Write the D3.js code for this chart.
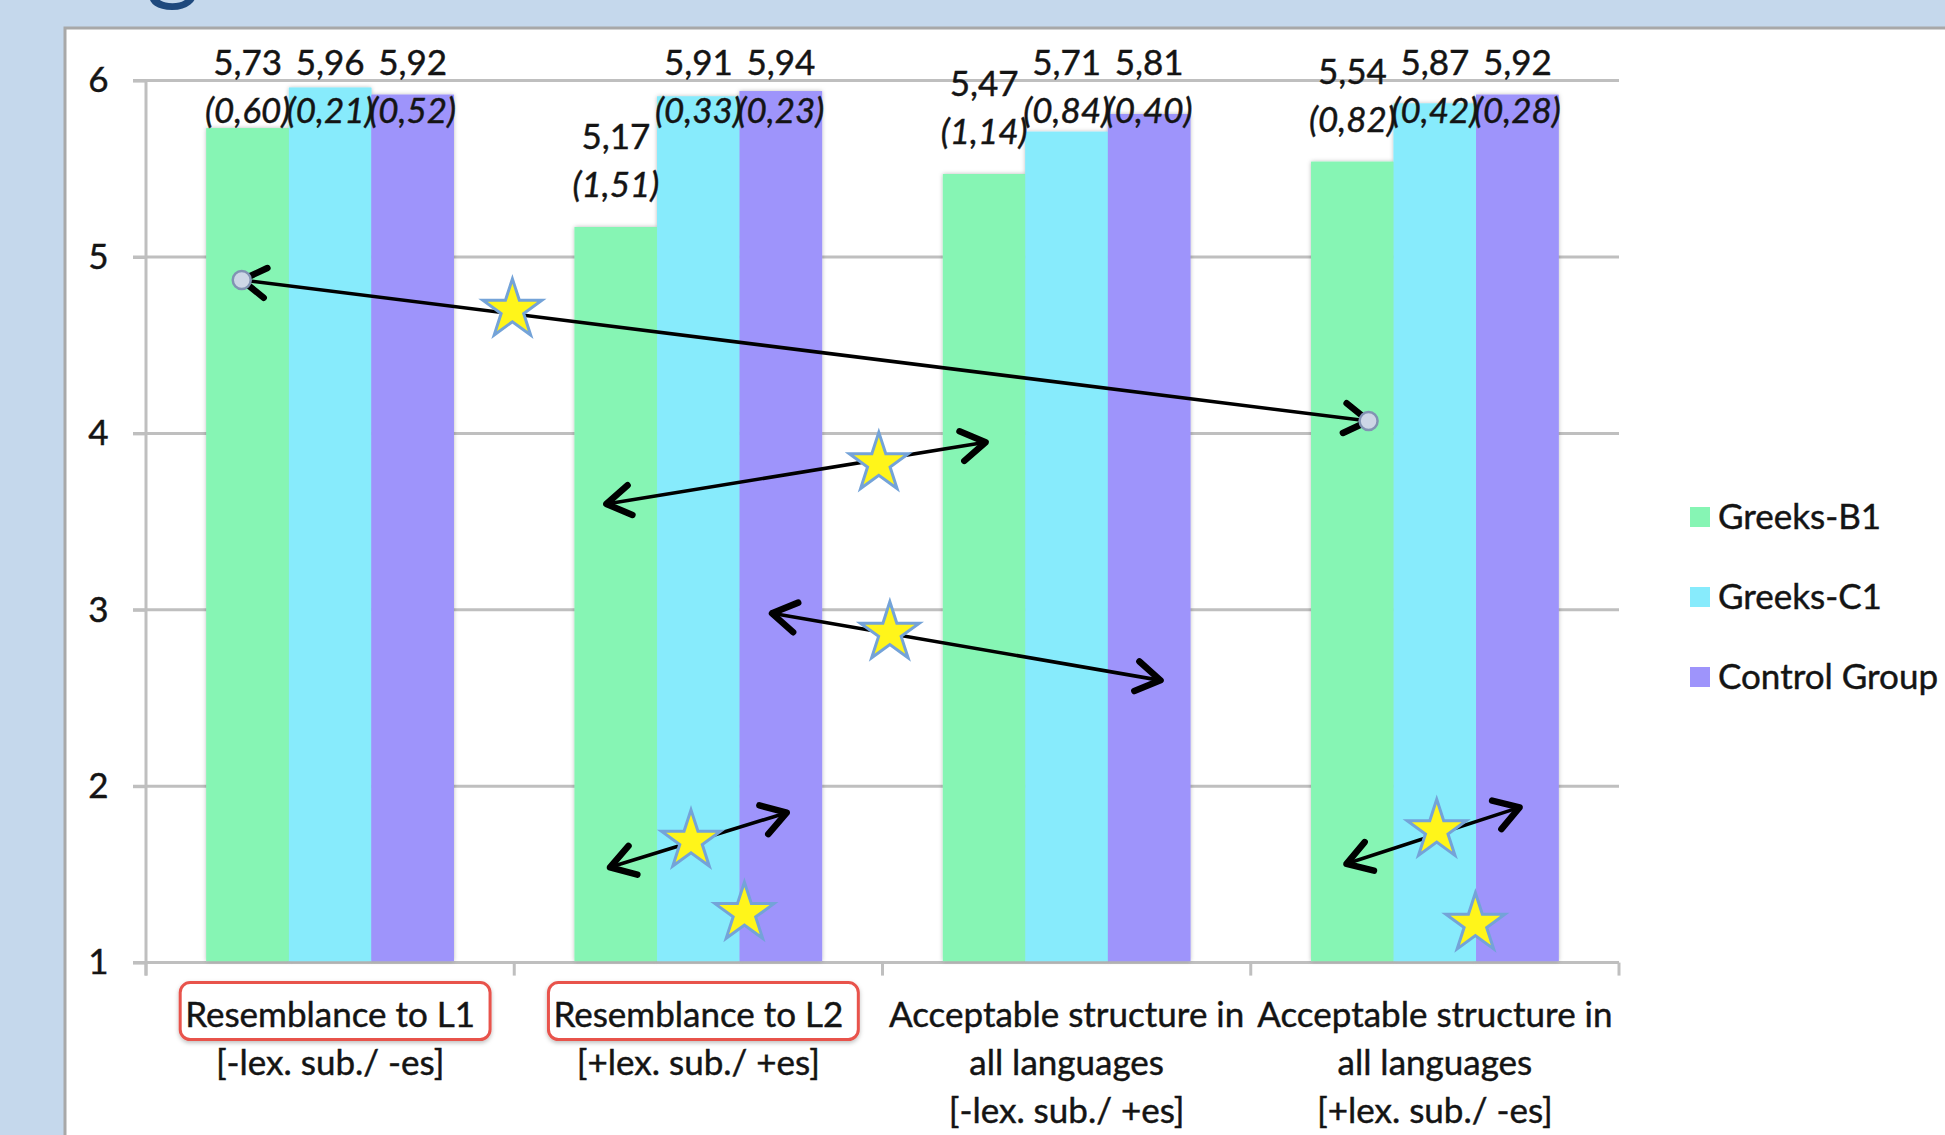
<!DOCTYPE html>
<html><head><meta charset="utf-8">
<script src="https://cdn.jsdelivr.net/npm/d3@7"></script>
<style>
html,body{margin:0;padding:0;background:#c5d8ec;overflow:hidden}
svg{display:block}
text{font-family:Lato,"Open Sans",sans-serif;fill:#141414;stroke:#141414;stroke-width:0.45px;paint-order:stroke}
</style>
</head><body>
<svg id="chart" width="1945" height="1135"></svg>
<script>
// ---------- data ----------
const categoryIds = ["L1", "L2", "AllNoLex", "AllLex"];
const categoryLines = [
  ["Resemblance to L1", "[-lex. sub./ -es]"],
  ["Resemblance to L2", "[+lex. sub./ +es]"],
  ["Acceptable structure in", "all languages", "[-lex. sub./ +es]"],
  ["Acceptable structure in", "all languages", "[+lex. sub./ -es]"]
];
const highlightedCategory = [true, true, false, false];
const seriesNames = ["Greeks-B1", "Greeks-C1", "Control Group"];
const greeksB1 = [5.73, 5.17, 5.47, 5.54];
const greeksC1 = [5.96, 5.91, 5.71, 5.87];
const controlGroup = [5.92, 5.94, 5.81, 5.92];
const sdB1 = ["(0,60)", "(1,51)", "(1,14)", "(0,82)"];
const sdC1 = ["(0,21)", "(0,33)", "(0,84)", "(0,42)"];
const sdControl = ["(0,52)", "(0,23)", "(0,40)", "(0,28)"];
const seriesColors = ["#86f5b4", "#87ebfc", "#9e94fb"];
const yTicks = [1, 2, 3, 4, 5, 6];
const yDomain = [1, 6];

// annotations in data space: x = category position (0..4 across the axis), y = score
const arrowStartX = [0.26, 1.25, 1.70, 1.26, 3.26];
const arrowStartY = [4.87, 3.60, 2.98, 1.54, 1.56];
const arrowEndX   = [3.32, 2.28, 2.755, 1.74, 3.73];
const arrowEndY   = [4.07, 3.95, 2.60, 1.85, 1.88];
const arrowDots   = [true, false, false, false, false];
const starX = [0.995, 1.99, 2.02, 1.48, 1.625, 3.505, 3.61];
const starY = [4.70, 3.83, 2.87, 1.69, 1.28, 1.75, 1.22];

// ---------- layout ----------
const svg = d3.select("#chart");
const plot = {left: 146, right: 1619, top: 80.6, bottom: 962.6};
const fontSize = 35;

const defs = svg.append("defs");
const sh = defs.append("filter").attr("id", "barShadow").attr("x", "-10%").attr("y", "-5%").attr("width", "120%").attr("height", "110%");
sh.append("feDropShadow").attr("dx", 0).attr("dy", 0).attr("stdDeviation", 2.2).attr("flood-color", "#000").attr("flood-opacity", 0.28);
const bs = defs.append("filter").attr("id", "boxShadow").attr("x", "-10%").attr("y", "-30%").attr("width", "120%").attr("height", "160%");
bs.append("feDropShadow").attr("dx", 0).attr("dy", 2).attr("stdDeviation", 2).attr("flood-color", "#000").attr("flood-opacity", 0.25);
defs.append("marker").attr("id", "chev").attr("markerUnits", "userSpaceOnUse")
  .attr("viewBox", "-32 -24 38 48").attr("markerWidth", 38).attr("markerHeight", 48)
  .attr("refX", 0).attr("refY", 0).attr("orient", "auto-start-reverse")
  .append("path").attr("d", "M-24,-15 L0,0 L-24,15")
  .attr("fill", "none").attr("stroke", "#000").attr("stroke-width", 6.5)
  .attr("stroke-linecap", "round").attr("stroke-linejoin", "round");

// slide title fragment
svg.append("text").attr("x", 146).attr("y", -9).attr("font-size", 104)
  .style("fill", "#1f497d").style("stroke", "none").text("g");

// white chart panel
svg.append("rect").attr("x", 65).attr("y", 28).attr("width", 1900).attr("height", 1200)
  .attr("fill", "#fff").attr("stroke", "#a8a8a8").attr("stroke-width", 3);

const y = d3.scaleLinear().domain(yDomain).range([plot.bottom, plot.top]);
const x0 = d3.scaleBand().domain(categoryIds).range([plot.left, plot.right])
  .paddingInner(0.328).paddingOuter(0.164);
const x1 = d3.scaleBand().domain(seriesNames).range([0, x0.bandwidth()]);
const xPos = d3.scaleLinear().domain([0, categoryIds.length]).range([plot.left, plot.right]);

// gridlines
svg.append("g").selectAll("line").data(yTicks.filter(t => t > yDomain[0])).join("line")
  .attr("x1", plot.left - 13).attr("x2", plot.right)
  .attr("y1", d => y(d)).attr("y2", d => y(d))
  .attr("stroke", "#bfbfbf").attr("stroke-width", 3);

// y axis
const yAxis = svg.append("g").attr("transform", `translate(${plot.left},0)`)
  .call(d3.axisLeft(y).tickValues(yTicks).tickSize(13).tickPadding(24).tickFormat(d3.format("d")));
yAxis.select(".domain").attr("stroke", "#bfbfbf").attr("stroke-width", 3).attr("d", `M0,${plot.top}V${plot.bottom + 13}`);
yAxis.selectAll(".tick line").attr("stroke", "#bfbfbf").attr("stroke-width", 3);
yAxis.selectAll(".tick text").attr("font-size", fontSize).attr("text-anchor", "middle").attr("dx", "-0.3em")
  .style("font-family", "Lato,sans-serif").style("fill", "#141414");

// x axis
const xAxis = svg.append("g").attr("transform", `translate(0,${plot.bottom})`);
xAxis.append("line").attr("x1", plot.left - 13).attr("x2", plot.right).attr("y1", 0).attr("y2", 0)
  .attr("stroke", "#bfbfbf").attr("stroke-width", 3);
xAxis.selectAll("line.tk").data(d3.range(categoryIds.length + 1)).join("line").attr("class", "tk")
  .attr("x1", d => xPos(d)).attr("x2", d => xPos(d)).attr("y1", 0).attr("y2", 13)
  .attr("stroke", "#bfbfbf").attr("stroke-width", 3);

// bars
const seriesValues = [greeksB1, greeksC1, controlGroup];
const seriesSd = [sdB1, sdC1, sdControl];
const barData = [];
categoryIds.forEach((c, ci) => seriesNames.forEach((s, si) => {
  barData.push({c, ci, s, si, v: seriesValues[si][ci], sd: seriesSd[si][ci]});
}));
const barG = svg.append("g");
barG.selectAll("rect").data(barData).join("rect")
  .attr("x", d => x0(d.c) + x1(d.s)).attr("width", x1.bandwidth())
  .attr("y", d => y(d.v)).attr("height", d => y(yDomain[0]) - y(d.v) - 1.5)
  .attr("fill", d => seriesColors[d.si]).attr("filter", "url(#barShadow)");
barG.selectAll("rect.flat").data(barData).join("rect").attr("class", "flat")
  .attr("x", d => x0(d.c) + x1(d.s)).attr("width", x1.bandwidth())
  .attr("y", d => y(d.v)).attr("height", d => y(yDomain[0]) - y(d.v) - 1.5)
  .attr("fill", d => seriesColors[d.si]);

// annotations: arrows
const arrowData = arrowStartX.map((_, i) => ({x1: arrowStartX[i], y1: arrowStartY[i], x2: arrowEndX[i], y2: arrowEndY[i], dots: arrowDots[i]}));
const annG = svg.append("g");
annG.selectAll("line").data(arrowData).join("line")
  .attr("x1", d => xPos(d.x1)).attr("y1", d => y(d.y1))
  .attr("x2", d => xPos(d.x2)).attr("y2", d => y(d.y2))
  .attr("stroke", "#000").attr("stroke-width", 3.6)
  .attr("marker-start", "url(#chev)").attr("marker-end", "url(#chev)");
const dotData = arrowData.filter(d => d.dots).flatMap(d => [[d.x1, d.y1], [d.x2, d.y2]]);
annG.selectAll("circle").data(dotData).join("circle")
  .attr("cx", d => xPos(d[0])).attr("cy", d => y(d[1])).attr("r", 9)
  .attr("fill", "#cdd6e6").attr("stroke", "#8193b3").attr("stroke-width", 2.5);

// stars
const starPath = d3.symbol(d3.symbolStar, 1080)();
annG.selectAll("path.star").data(starX.map((sx, i) => [sx, starY[i]])).join("path").attr("class", "star")
  .attr("d", starPath)
  .attr("transform", d => `translate(${xPos(d[0])},${y(d[1])})`)
  .attr("fill", "#fff51a").attr("stroke", "#74a3d8").attr("stroke-width", 3).attr("stroke-linejoin", "miter");

// data labels (value + sd), clamped to the top of the chart area
const labelTop = y(yDomain[1]) - 18;
const labG = svg.append("g").attr("text-anchor", "middle").attr("font-size", fontSize);
barData.forEach(d => {
  const cx = x0(d.c) + x1(d.s) + x1.bandwidth() / 2;
  const vy = Math.max(labelTop, y(d.v) - 90);
  labG.append("text").attr("x", cx).attr("y", vy).attr("dy", "0.35em")
    .text(d3.format(".2f")(d.v).replace(".", ","));
  labG.append("text").attr("x", cx).attr("y", vy + 48).attr("dy", "0.35em")
    .attr("font-style", "italic").text(d.sd);
});

// category labels
const catG = svg.append("g").attr("text-anchor", "middle").attr("font-size", fontSize);
categoryIds.forEach((c, ci) => {
  const cx = x0(c) + x0.bandwidth() / 2;
  const lines = categoryLines[ci];
  const txts = lines.map((ln, li) => catG.append("text").attr("x", cx)
    .attr("y", plot.bottom + 52 + li * 48).attr("dy", "0.35em").text(ln));
  if (highlightedCategory[ci]) {
    const w = txts[0].node().getComputedTextLength();
    catG.insert("rect", "text").attr("x", cx - w / 2 - 5).attr("y", plot.bottom + 20)
      .attr("width", w + 20).attr("height", 57).attr("rx", 10).attr("ry", 10)
      .attr("fill", "#fff").attr("stroke", "#e8524c").attr("stroke-width", 3)
      .attr("filter", "url(#boxShadow)");
  }
});

// legend
const legG = svg.append("g").attr("transform", "translate(1690,517)");
const leg = legG.selectAll("g").data(seriesNames).join("g")
  .attr("transform", (d, i) => `translate(0,${i * 80})`);
leg.append("rect").attr("x", 0).attr("y", -10).attr("width", 20).attr("height", 20)
  .attr("fill", (d, i) => seriesColors[i]);
leg.append("text").attr("x", 28).attr("y", 0).attr("dy", "0.35em").attr("font-size", fontSize).text(d => d);
</script>
</body></html>
